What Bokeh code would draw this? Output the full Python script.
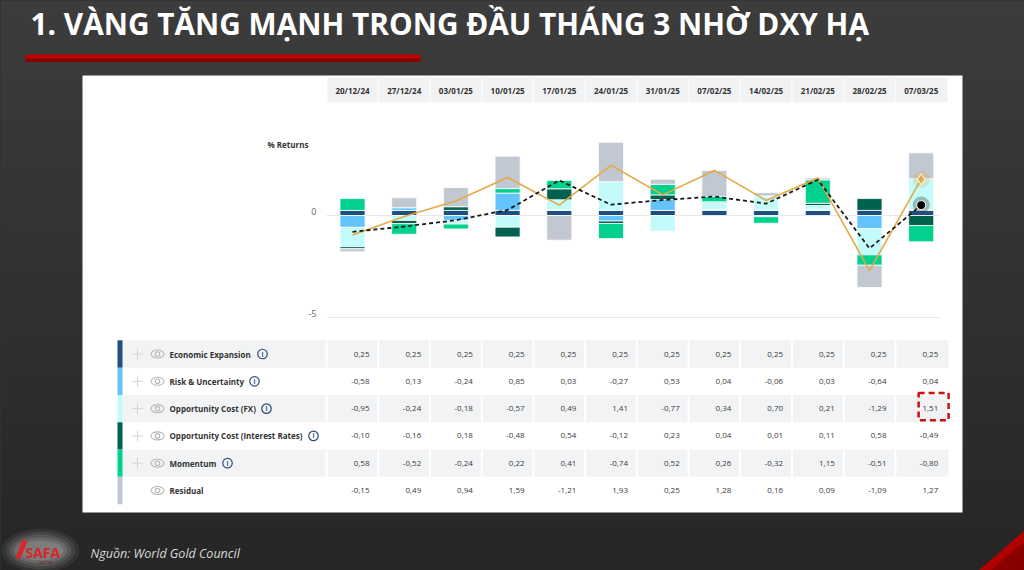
import numpy as np
from bokeh.plotting import figure
from bokeh.models import Range1d, ColumnDataSource, GlobalInlineStyleSheet
from bokeh.core.properties import value
from bokeh.embed import file_html
from bokeh.resources import INLINE

# ---------------- data ----------------
title_text = "1. VÀNG TĂNG MẠNH TRONG ĐẦU THÁNG 3 NHỜ DXY HẠ"
source_text = "Nguồn: World Gold Council"
axis_title = "% Returns"
dates = ["20/12/24", "27/12/24", "03/01/25", "10/01/25", "17/01/25", "24/01/25",
         "31/01/25", "07/02/25", "14/02/25", "21/02/25", "28/02/25", "07/03/25"]
series_names = ["Economic Expansion", "Risk & Uncertainty", "Opportunity Cost (FX)",
                "Opportunity Cost (Interest Rates)", "Momentum", "Residual"]
economic_expansion = [0.25, 0.25, 0.25, 0.25, 0.25, 0.25, 0.25, 0.25, 0.25, 0.25, 0.25, 0.25]
risk_uncertainty = [-0.58, 0.13, -0.24, 0.85, 0.03, -0.27, 0.53, 0.04, -0.06, 0.03, -0.64, 0.04]
opp_cost_fx = [-0.95, -0.24, -0.18, -0.57, 0.49, 1.41, -0.77, 0.34, 0.70, 0.21, -1.29, 1.51]
opp_cost_rates = [-0.10, -0.16, 0.18, -0.48, 0.54, -0.12, 0.23, 0.04, 0.01, 0.11, 0.58, -0.49]
momentum = [0.58, -0.52, -0.24, 0.22, 0.41, -0.74, 0.52, 0.26, -0.32, 1.15, -0.51, -0.80]
residual = [-0.15, 0.49, 0.94, 1.59, -1.21, 1.93, 0.25, 1.28, 0.16, 0.09, -1.09, 1.27]
model_return = [-0.80, -0.54, -0.23, 0.27, 1.72, 0.53, 0.76, 0.93, 0.58, 1.75, -1.61, 0.51]
gold_return = [-0.95, -0.05, 0.71, 1.86, 0.51, 2.46, 1.01, 2.21, 0.74, 1.84, -2.70, 1.78]
y_ticks = [0, -5]
y_tick_labels = ["0", "-5"]

series_values = [economic_expansion, risk_uncertainty, opp_cost_fx,
                 opp_cost_rates, momentum, residual]

# ---------------- layout / style ----------------
W, H = 1024, 570
COL_X0, COL_W = 352.0, 51.7
ZERO_Y, PX_UNIT = 215.0, 20.4
ROW_Y0, ROW_H = 353.5, 27.3
FONT = value("Open Sans")
series_colors = ["#1f4f7f", "#63c4fb", "#c3fbfb", "#03614f", "#02d08f", "#c1c8d1"]
info_icon_x = [262, 254, 266, 313, 227, None]

p = figure(width=W, height=H, x_range=Range1d(0, W), y_range=Range1d(H, 0),
           x_axis_type=None, y_axis_type=None, toolbar_location=None,
           output_backend="svg", min_border=0, outline_line_color=None,
           background_fill_color="#333333", border_fill_color="#333333")
p.stylesheets = [GlobalInlineStyleSheet(
    css="html,body{margin:0!important;padding:0;background:#333333;overflow:hidden;}")]

p.extra_x_ranges = {"col": Range1d(-COL_X0 / COL_W, (W - COL_X0) / COL_W)}
p.extra_y_ranges = {
    "ret": Range1d((ZERO_Y - H) / PX_UNIT, ZERO_Y / PX_UNIT),
    "tab": Range1d((H - ROW_Y0) / ROW_H, -ROW_Y0 / ROW_H),
}

# background gradient
nb = 38
bt = [k * H / nb for k in range(nb)]
bb = [(k + 1) * H / nb + 1 for k in range(nb)]
bc = []
for k in range(nb):
    f = k / (nb - 1)
    c = int(round(60 - 22 * f))
    bc.append("#%02x%02x%02x" % (c, c, c))
p.quad(left=0, right=W, top=bt, bottom=bb, fill_color=bc, line_color=None)

# title and red underline
p.text(x=[30], y=[22.5], text=[title_text], text_font=FONT, text_font_style="bold",
       text_font_size="29.8px", text_color="#ffffff", text_baseline="middle")
p.quad(left=[25], right=[420], top=[54], bottom=[58], fill_color="#c00000", line_color=None)
p.quad(left=[25], right=[420], top=[58], bottom=[61.5], fill_color="#8e0000", line_color=None)

# white panel
p.quad(left=[82], right=[962], top=[75], bottom=[512], fill_color="#ffffff", line_color=None)

# date header band
p.quad(left=[327], right=[947], top=[77], bottom=[102], fill_color="#f1f2f4", line_color=None)
xs = list(range(len(dates)))
p.segment(x0=[i + 0.5 for i in xs[:-1]], x1=[i + 0.5 for i in xs[:-1]], y0=78, y1=101,
          x_range_name="col", line_color="#fbfbfc", line_width=1.5)
p.text(x=xs, y=[89.5] * len(xs), text=dates, x_range_name="col", text_font=FONT,
       text_font_style="bold", text_font_size="8px", text_color="#333333",
       text_align="center", text_baseline="middle")

# gridlines & y labels
p.segment(x0=-0.5, x1=11.37, y0=y_ticks, y1=y_ticks, x_range_name="col",
          y_range_name="ret", line_color="#e8e8e8", line_width=1)
p.text(x=[316] * len(y_ticks), y=y_ticks, text=y_tick_labels, y_range_name="ret",
       y_offset=-4, text_font=FONT, text_font_size="9px", text_color="#666666",
       text_align="right", text_baseline="middle")
p.text(x=[267], y=[144], text=[axis_title], text_font=FONT, text_font_style="bold",
       text_font_size="8px", text_color="#333333", text_baseline="middle")

# stacked bars
pos = np.zeros(len(dates))
neg = np.zeros(len(dates))
for vals, col in zip(series_values, series_colors):
    v = np.array(vals)
    bottom = np.where(v >= 0, pos, neg)
    top = bottom + v
    pos = np.where(v >= 0, top, pos)
    neg = np.where(v < 0, top, neg)
    src = ColumnDataSource(dict(x=xs, top=top, bottom=bottom))
    p.vbar(x="x", top="top", bottom="bottom", width=0.485, source=src,
           x_range_name="col", y_range_name="ret", fill_color=col,
           line_color="#ffffff", line_width=0.8)

# lines
p.line(xs, gold_return, x_range_name="col", y_range_name="ret",
       line_color="#e3aa45", line_width=1.6)
p.line(xs, model_return, x_range_name="col", y_range_name="ret",
       line_color="#1a1a1a", line_width=1.8, line_dash="4 3")
last = len(xs) - 1
p.scatter([xs[last]], [gold_return[last]], x_range_name="col", y_range_name="ret",
          marker="circle", size=17, fill_color="#e3aa45", fill_alpha=0.25, line_color=None)
p.scatter([xs[last]], [gold_return[last]], x_range_name="col", y_range_name="ret",
          marker="diamond", size=11, fill_color="#e3aa45", line_color="#ffffff", line_width=1)
p.scatter([xs[last]], [model_return[last]], x_range_name="col", y_range_name="ret",
          marker="circle", size=17, fill_color="#444444", fill_alpha=0.35, line_color=None)
p.scatter([xs[last]], [model_return[last]], x_range_name="col", y_range_name="ret",
          marker="circle", size=9, fill_color="#000000", line_color="#ffffff", line_width=1)

# ---------------- table ----------------
rows = list(range(len(series_names)))
gray_rows = [r for r in rows if r % 2 == 0]
p.quad(left=122, right=948, top=[r - 0.5 for r in gray_rows], bottom=[r + 0.5 for r in gray_rows],
       y_range_name="tab", fill_color="#f2f3f5", line_color=None)
p.segment(x0=[i - 0.5 for i in xs], x1=[i - 0.5 for i in xs], y0=-0.5, y1=5.5,
          x_range_name="col", y_range_name="tab", line_color="#ffffff", line_width=2)
p.quad(left=117, right=122, top=[r - 0.5 for r in rows], bottom=[r + 0.5 for r in rows],
       y_range_name="tab", fill_color=series_colors, line_color=None)

icon_rows = rows[:-1]
p.scatter([137] * len(icon_rows), icon_rows, y_range_name="tab", marker="cross", size=11,
          line_color="#d4d4d4", line_width=1)
p.ellipse(x=[157] * len(rows), y=rows, width=13, height=8, width_units="screen",
          height_units="screen", y_range_name="tab", fill_color=None,
          line_color="#b8b8b8", line_width=1.1)
p.scatter([157] * len(rows), rows, y_range_name="tab", marker="circle", size=4.5,
          fill_color=None, line_color="#b8b8b8", line_width=1.1)
p.text(x=[169] * len(rows), y=rows, text=series_names, y_range_name="tab", text_font=FONT,
       text_font_style="bold", text_font_size="8px", text_color="#333333",
       text_baseline="middle")
ix = [info_icon_x[r] for r in rows if info_icon_x[r] is not None]
iy = [r for r in rows if info_icon_x[r] is not None]
p.scatter(ix, iy, y_range_name="tab", marker="circle", size=9.5, fill_color=None,
          line_color="#2c4a7c", line_width=1.2)
p.text(x=ix, y=iy, text=["i"] * len(ix), y_range_name="tab", text_font=FONT,
       text_font_style="bold", text_font_size="6.5px", text_color="#2c4a7c",
       text_align="center", text_baseline="middle")

tx, ty, tt = [], [], []
for r, vals in enumerate(series_values):
    for i, v in enumerate(vals):
        tx.append(i)
        ty.append(r)
        tt.append(("%.2f" % v).replace(".", ","))
p.text(x=tx, y=ty, text=tt, x_range_name="col", y_range_name="tab", x_offset=17,
       text_font=FONT, text_font_size="8px", text_color="#3a3a3a",
       text_align="right", text_baseline="middle")

# highlighted cell
p.quad(left=[10.95], right=[11.53], top=[1.43], bottom=[2.43], x_range_name="col",
       y_range_name="tab", fill_color=None, line_color="#cc1111", line_width=2.5,
       line_dash="6 4")

# ---------------- footer ----------------
for w_, h_, a_ in [(78, 44, 0.06), (70, 38, 0.08), (62, 32, 0.10), (54, 26, 0.12), (46, 20, 0.12)]:
    p.ellipse(x=[40], y=[550], width=w_, height=h_, fill_color="#ffffff", fill_alpha=a_,
              line_color=None)
p.patch([15, 22, 27, 20], [558, 539, 541, 558], fill_color="#d8262c", line_color=None)
p.text(x=[25], y=[551.5], text=["SAFA"], text_font=FONT, text_font_style="bold",
       text_font_size="14px", text_color="#d8262c", text_baseline="middle")
p.text(x=[45], y=[562], text=["CAPITAL"], text_font=FONT, text_font_size="4px",
       text_color="#7a1a1a", text_align="center", text_baseline="middle")
p.text(x=[90], y=[553], text=[source_text], text_font=FONT, text_font_style="italic",
       text_font_size="12.5px", text_color="#d9d9d9", text_baseline="middle")
p.patch([978, 1024, 1024], [570, 530, 570], fill_color="#b00000", line_color=None)
p.patch([990, 1024, 1024], [570, 541, 570], fill_color="#8a0000", line_color=None)

open("out.html", "w").write(file_html(p, INLINE))
